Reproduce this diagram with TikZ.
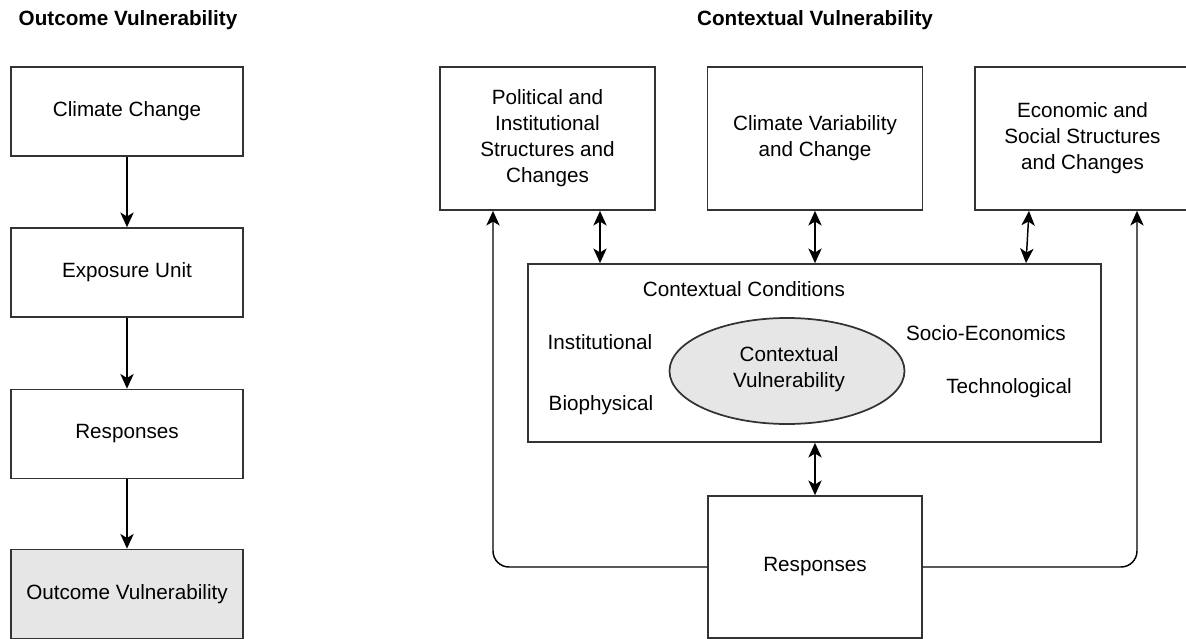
\documentclass[tikz,border=0pt]{standalone}
\usepackage{fontspec}
\setmainfont{Liberation Sans}
\usetikzlibrary{arrows.meta,shapes.geometric}

\tikzset{every picture/.style={line width=1.3pt}}
\tikzset{
  box/.style={draw={rgb, 255:red, 51; green, 51; blue, 51}, rectangle, inner sep=0pt, align=center},
  lbox/.style={box, minimum width=174pt, minimum height=66.75pt},
  tbox/.style={box, minimum width=161.25pt, minimum height=107.25pt},
  lbl/.style={inner sep=0.75pt, align=center},
  arr/.style={-{Stealth[length=11pt,width=10pt,inset=3pt]}, color={rgb, 255:red, 0; green, 0; blue, 0}, line width=1.1pt},
  dbl/.style={{Stealth[length=11pt,width=10pt,inset=3pt]}-{Stealth[length=11pt,width=10pt,inset=3pt]}, color={rgb, 255:red, 0; green, 0; blue, 0}, line width=1.1pt}
}

\begin{document}
\begin{tikzpicture}[x=0.75pt,y=0.75pt,yscale=-1,xscale=1]
\useasboundingbox (0,0) rectangle (1186,639);
\fontsize{15.5}{19.5}\selectfont

% Text Node
\node (ttlout) at (128,20) [lbl] {\textbf{Outcome Vulnerability}};
% Text Node
\node (ttlctx) at (815,20) [lbl] {\textbf{Contextual Vulnerability}};

%Shape: Rectangle
\node (cc) at (127,111.5) [lbox] {Climate Change};
%Shape: Rectangle
\node (eu) at (127,272.5) [lbox] {Exposure Unit};
%Shape: Rectangle
\node (rsl) at (127,434) [lbox] {Responses};
%Shape: Rectangle
\node (ov) at (127,594) [lbox, fill={rgb, 255:red, 230; green, 230; blue, 230}] {Outcome Vulnerability};

%Straight Lines
\draw [arr] (cc) -- (eu);
\draw [arr] (eu) -- (rsl);
\draw [arr] (rsl) -- (ov);

%Shape: Rectangle
\node (pol) at (547.5,138.5) [tbox] {Political and\\Institutional\\Structures and\\Changes};
%Shape: Rectangle
\node (clim) at (815,138.5) [tbox] {Climate Variability\\and Change};
%Shape: Rectangle
\node (eco) at (1082.5,138.5) [tbox] {Economic and\\Social Structures\\and Changes};

%Shape: Rectangle
\node (cond) at (814.5,353) [box, minimum width=429.75pt, minimum height=133.5pt] {};
%Shape: Ellipse
\node (cv) at (787,371) [draw={rgb, 255:red, 51; green, 51; blue, 51}, ellipse, fill={rgb, 255:red, 230; green, 230; blue, 230}, minimum width=176.25pt, minimum height=79.5pt, inner sep=0pt] {};
% Text Node
\node (cvtxt) at (789,369) [lbl] {Contextual\\Vulnerability};
% Text Node
\node (ccond) at (744,289) [lbl] {Contextual Conditions};
% Text Node
\node (inst) at (600,342) [lbl] {Institutional};
% Text Node
\node (bio) at (601,405) [lbl] {Biophysical};
% Text Node
\node (socio) at (986,333) [lbl] {Socio-Economics};
% Text Node
\node (tech) at (1009,388) [lbl] {Technological};

%Shape: Rectangle
\node (resp) at (815,567) [box, minimum width=160.5pt, minimum height=106.5pt] {Responses};

%Straight Lines
\draw [dbl] (pol.south -| 600,0) -- (600,0 |- cond.north);
\draw [dbl] (clim.south) -- (clim.south |- cond.north);
\draw [dbl] (eco.south -| 1029,0) -- (1026,0 |- cond.north);
\draw [dbl] (cond.south -| resp.north) -- (resp.north);

%Curve Lines
\draw [arr, rounded corners=12pt] (resp.west) -| (pol.south -| 493,0);
\draw [arr, rounded corners=12pt] (resp.east) -| (eco.south -| 1137,0);
\end{tikzpicture}
\end{document}
